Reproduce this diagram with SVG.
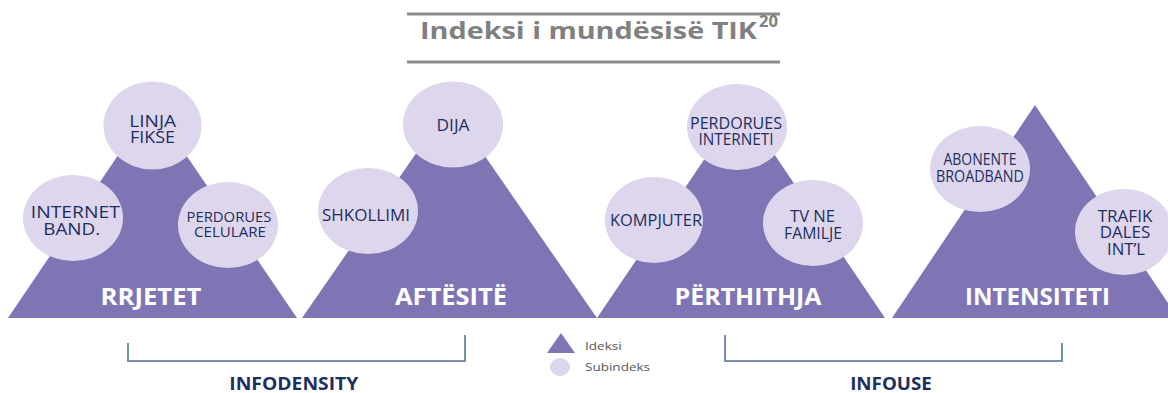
<svg xmlns="http://www.w3.org/2000/svg" width="1168" height="393" viewBox="0 0 1168 393">
<style>
.tri{fill:#7f75b5}
.sub{fill:#ddd6ec}
.st{font-family:"Open Sans","Liberation Sans",sans-serif;fill:#1d2f5f;text-anchor:middle;font-size:16px}
.ss{font-size:14px}
.mt{font-family:"Open Sans","Liberation Sans",sans-serif;fill:#ffffff;font-weight:bold;text-anchor:middle;font-size:23px}
.br{fill:none;stroke:#7b8db0;stroke-width:2}
.gl{font-family:"Open Sans","Liberation Sans",sans-serif;fill:#1d2f5f;font-weight:bold;text-anchor:middle;font-size:17px}
.lg{font-family:"Open Sans","Liberation Sans",sans-serif;fill:#555555;font-size:11.5px}
</style>
<rect width="1168" height="393" fill="#ffffff"/>
<g id="title">
<line x1="407" y1="14" x2="780" y2="14" stroke="#8a8a8a" stroke-width="3"/>
<line x1="407" y1="62" x2="780" y2="62" stroke="#8a8a8a" stroke-width="3"/>
<text x="420" y="38.5" font-family="'Open Sans','Liberation Sans',sans-serif" font-weight="bold" font-size="23.5" fill="#808080"><tspan textLength="337" lengthAdjust="spacingAndGlyphs">Indeksi i mundësisë TIK</tspan><tspan x="759" y="27" font-size="15.5" textLength="19" lengthAdjust="spacingAndGlyphs">20</tspan></text>
</g>
<g id="rrjetet">
<polygon class="tri" points="152,105 8,318 297,318"/>
<ellipse class="sub" cx="152.5" cy="125.5" rx="49" ry="44"/>
<text class="st" font-size="17"><tspan x="152.7" y="126.7" textLength="46.7" lengthAdjust="spacingAndGlyphs">LINJA</tspan><tspan x="152.5" y="142.7" textLength="45" lengthAdjust="spacingAndGlyphs">FIKSE</tspan></text>
<ellipse class="sub" cx="73" cy="218" rx="50" ry="43"/>
<text class="st"><tspan x="75.3" y="218.3" textLength="89" lengthAdjust="spacingAndGlyphs">INTERNET</tspan><tspan x="71.7" y="235" textLength="57" lengthAdjust="spacingAndGlyphs">BAND.</tspan></text>
<ellipse class="sub" cx="228" cy="225" rx="50" ry="43"/>
<text class="st ss"><tspan x="229" y="221.7" textLength="85" lengthAdjust="spacingAndGlyphs">PERDORUES</tspan><tspan x="230" y="236.7" textLength="72" lengthAdjust="spacingAndGlyphs">CELULARE</tspan></text>
<text class="mt" x="151" y="305" textLength="101" lengthAdjust="spacingAndGlyphs">RRJETET</text>
</g>
<g id="aftesite">
<polygon class="tri" points="449.5,105 302,318 597,318"/>
<ellipse class="sub" cx="453" cy="124.5" rx="50" ry="43"/>
<text class="st" x="453" y="130.7" textLength="33" lengthAdjust="spacingAndGlyphs">DIJA</text>
<ellipse class="sub" cx="368" cy="211" rx="50" ry="43"/>
<text class="st" x="366" y="220.7" textLength="88" lengthAdjust="spacingAndGlyphs">SHKOLLIMI</text>
<text class="mt" x="451" y="305" textLength="112" lengthAdjust="spacingAndGlyphs">AFTËSITË</text>
</g>
<g id="perthithja">
<polygon class="tri" points="741,105 597,318 885,318"/>
<ellipse class="sub" cx="737" cy="127" rx="50" ry="43"/>
<text class="st"><tspan x="736" y="129.3" textLength="92" lengthAdjust="spacingAndGlyphs">PERDORUES</tspan><tspan x="736" y="145" textLength="75" lengthAdjust="spacingAndGlyphs">INTERNETI</tspan></text>
<ellipse class="sub" cx="654" cy="220" rx="49" ry="43"/>
<text class="st" x="656" y="225.7" textLength="92" lengthAdjust="spacingAndGlyphs">KOMPJUTER</text>
<ellipse class="sub" cx="813" cy="223" rx="50" ry="43"/>
<text class="st"><tspan x="812.5" y="221.7" textLength="45" lengthAdjust="spacingAndGlyphs">TV NE</tspan><tspan x="813" y="239.3" textLength="58" lengthAdjust="spacingAndGlyphs">FAMILJE</tspan></text>
<text class="mt" x="748" y="305" textLength="147" lengthAdjust="spacingAndGlyphs">PËRTHITHJA</text>
</g>
<g id="intensiteti">
<polygon class="tri" points="1035,105 892,318 1178,318"/>
<ellipse class="sub" cx="980" cy="169" rx="50" ry="43"/>
<text class="st"><tspan x="980" y="165" textLength="73" lengthAdjust="spacingAndGlyphs">ABONENTE</tspan><tspan x="980" y="181.7" textLength="88" lengthAdjust="spacingAndGlyphs">BROADBAND</tspan></text>
<ellipse class="sub" cx="1124" cy="232" rx="49" ry="43"/>
<text class="st"><tspan x="1125" y="221.7" textLength="54.7" lengthAdjust="spacingAndGlyphs">TRAFIK</tspan><tspan x="1125" y="238.3" textLength="50.7" lengthAdjust="spacingAndGlyphs">DALES</tspan><tspan x="1126" y="255" textLength="38" lengthAdjust="spacingAndGlyphs">INT’L</tspan></text>
<text class="mt" x="1037.5" y="305" textLength="145" lengthAdjust="spacingAndGlyphs">INTENSITETI</text>
</g>
<g id="groups">
<polyline class="br" points="128,343 128,361 465,361 465,335"/>
<text class="gl" x="293.8" y="390" textLength="129" lengthAdjust="spacingAndGlyphs">INFODENSITY</text>
<polyline class="br" points="725,335 725,361 1062,361 1062,343"/>
<text class="gl" x="891" y="390" textLength="81.7" lengthAdjust="spacingAndGlyphs">INFOUSE</text>
</g>
<g id="legend">
<polygon class="tri" points="561,333 547,353 575,353"/>
<ellipse class="sub" cx="560" cy="367" rx="10" ry="9"/>
<text class="lg" x="585" y="350" textLength="36.7" lengthAdjust="spacingAndGlyphs">Ideksi</text>
<text class="lg" x="585" y="371" textLength="65" lengthAdjust="spacingAndGlyphs">Subindeks</text>
</g>
</svg>
